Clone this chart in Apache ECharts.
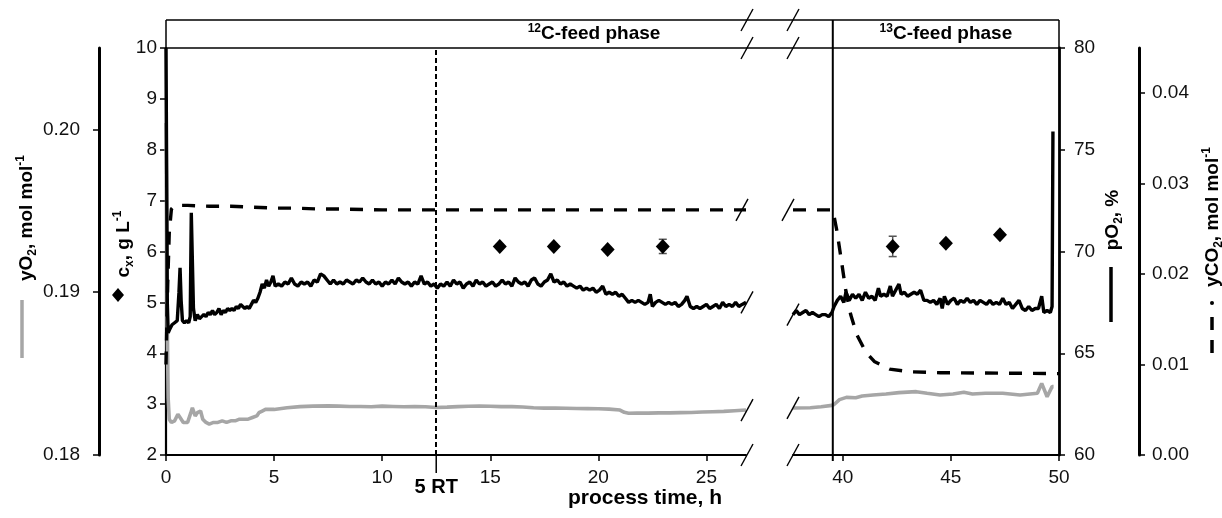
<!DOCTYPE html>
<html><head><meta charset="utf-8">
<script src="https://cdn.jsdelivr.net/npm/echarts@6/dist/echarts.min.js"></script>
<style>html,body{margin:0;padding:0;background:#fff}#c{width:1222px;height:518px}</style>
</head><body><div id="c"></div>
<script>
const FONT = '"Liberation Sans", Arial, Helvetica, sans-serif';

// ---------- data ----------
const pO2Time = [0,0.03,0.06,0.10,0.18,0.28,0.40,0.52,0.60,0.65,0.70,0.76,0.85,0.95,1.05,1.12,1.17,1.22,1.27,1.35,1.45,1.55,1.65,1.75,1.85,1.95,2.05,2.15,2.25,2.35,2.45,2.55,2.65,2.75,2.85,2.95,3.05,3.15,3.25,3.35,3.45,3.55,3.65,3.75,3.85,3.95,4.05,4.15,4.25,4.35,4.45,4.55,4.65,4.75,4.85,4.95,5.05,5.2,5.35,5.5,5.65,5.8,5.95,6.1,6.25,6.4,6.55,6.7,6.85,7.0,7.15,7.3,7.45,7.6,7.75,7.9,8.05,8.2,8.35,8.5,8.65,8.8,8.95,9.1,9.25,9.4,9.55,9.7,9.85,10.0,10.15,10.3,10.45,10.6,10.75,10.9,11.05,11.2,11.35,11.5,11.65,11.8,11.95,12.1,12.25,12.4,12.55,12.7,12.85,13.0,13.15,13.3,13.45,13.6,13.75,13.9,14.05,14.2,14.35,14.5,14.65,14.8,14.95,15.1,15.25,15.4,15.55,15.7,15.85,16.0,16.15,16.3,16.45,16.6,16.75,16.9,17.05,17.2,17.35,17.5,17.65,17.8,17.95,18.1,18.25,18.4,18.55,18.7,18.85,19.0,19.15,19.3,19.45,19.6,19.75,19.9,20.05,20.2,20.35,20.5,20.65,20.8,20.95,21.1,21.25,21.4,21.55,21.7,21.85,22.0,22.15,22.3,22.4,22.5,22.65,22.8,22.95,23.1,23.25,23.4,23.55,23.7,23.85,24.0,24.1,24.25,24.4,24.55,24.7,24.85,25.0,25.15,25.3,25.45,25.6,25.75,25.9,26.05,26.2,26.35,26.5,26.65,26.83,
  37.70,37.85,38.0,38.15,38.3,38.45,38.6,38.75,38.9,39.05,39.2,39.35,39.5,39.6,39.75,39.9,40.05,40.15,40.3,40.45,40.6,40.75,40.9,41.05,41.2,41.35,41.5,41.65,41.75,41.9,42.05,42.2,42.3,42.45,42.6,42.7,42.85,43.0,43.15,43.3,43.45,43.6,43.75,43.9,44.05,44.2,44.35,44.5,44.6,44.7,44.85,45.0,45.15,45.3,45.45,45.6,45.75,45.9,46.05,46.2,46.35,46.5,46.65,46.8,46.95,47.1,47.25,47.4,47.55,47.7,47.85,48.0,48.15,48.3,48.45,48.6,48.75,48.9,49.05,49.2,49.3,49.45,49.6,49.68,49.72];
const pO2Value = [80.0,74.0,67.5,66.0,66.2,66.4,66.5,66.6,68.0,69.2,67.6,66.6,66.5,66.6,66.5,66.8,71.9,71.9,67.2,66.6,66.9,66.7,66.8,66.9,66.8,67.0,66.9,67.1,66.9,67.0,67.2,66.9,67.1,67.0,67.2,67.1,67.2,67.1,67.3,67.2,67.4,67.3,67.2,67.3,67.2,67.4,67.6,67.5,67.7,68.0,68.4,68.2,68.6,68.3,68.5,68.8,68.3,68.4,68.3,68.5,68.4,68.7,68.4,68.3,68.5,68.4,68.5,68.3,68.6,68.5,68.9,68.8,68.6,68.4,68.6,68.4,68.5,68.4,68.6,68.5,68.4,68.6,68.5,68.7,68.5,68.4,68.6,68.4,68.5,68.3,68.5,68.4,68.6,68.4,68.7,68.5,68.4,68.5,68.3,68.5,68.4,68.8,68.4,68.5,68.3,68.4,68.2,68.4,68.3,68.5,68.3,68.6,68.4,68.5,68.2,68.4,68.5,68.3,68.6,68.4,68.5,68.3,68.4,68.5,68.3,68.4,68.6,68.4,68.5,68.3,68.7,68.5,68.4,68.5,68.3,68.6,68.7,68.4,68.3,68.5,68.6,68.9,68.5,68.6,68.4,68.5,68.3,68.4,68.3,68.2,68.3,68.1,68.2,68.1,68.2,68.0,68.1,68.3,67.9,68.0,67.9,68.0,67.8,67.9,67.7,67.5,67.6,67.5,67.6,67.5,67.4,67.5,67.9,67.3,67.5,67.6,67.5,67.4,67.5,67.4,67.5,67.3,67.4,67.6,67.8,67.3,67.2,67.3,67.2,67.3,67.4,67.2,67.3,67.4,67.2,67.5,67.3,67.4,67.3,67.5,67.3,67.4,67.5,
  66.9,67.1,66.9,67.0,67.1,66.9,67.0,66.9,66.8,66.9,66.9,66.8,67.0,67.3,67.6,67.8,67.5,68.0,67.6,67.9,67.7,67.9,67.6,68.0,67.7,67.8,67.6,68.2,67.8,67.9,67.8,68.3,67.8,68.1,68.4,67.9,68.0,67.8,67.9,68.0,67.9,68.1,67.6,67.6,67.5,67.6,67.4,67.7,67.2,67.8,67.4,67.6,67.7,67.4,67.6,67.5,67.7,67.5,67.6,67.4,67.6,67.5,67.4,67.6,67.4,67.5,67.4,67.7,67.4,67.5,67.2,67.4,67.6,67.2,67.1,67.3,67.1,67.2,67.2,67.8,67.0,67.1,67.0,67.3,75.9];

const yO2Time = [0,0.03,0.06,0.10,0.15,0.25,0.40,0.55,0.65,0.80,1.00,1.15,1.22,1.35,1.45,1.6,1.7,1.85,2.0,2.2,2.4,2.6,2.8,3.0,3.2,3.4,3.6,3.8,4.0,4.2,4.3,4.45,4.6,5.0,5.6,6.2,6.8,7.5,8.0,8.5,9.0,9.5,10.0,10.5,11.0,11.5,12.0,12.5,13.0,13.5,14.0,14.5,15.0,15.5,16.0,16.5,17.0,17.5,18.0,18.5,19.0,19.5,20.0,20.5,21.0,21.2,21.4,21.8,22.3,22.8,23.3,23.8,24.3,24.8,25.3,25.8,26.3,26.83,
  37.70,38.5,39.0,39.5,39.6,39.85,40.17,40.6,40.9,41.4,42.0,42.6,43.4,43.9,44.5,45.1,45.6,46.0,46.6,47.4,48.2,49.0,49.2,49.45,49.68,49.75];
const yO2Value = [0.2004,0.1950,0.1880,0.1835,0.1822,0.1820,0.1821,0.1825,0.1823,0.1820,0.1820,0.1826,0.1829,0.1824,0.1826,0.1827,0.1822,0.1820,0.1819,0.1820,0.1820,0.1821,0.1820,0.1821,0.1821,0.1822,0.1822,0.1822,0.1823,0.1824,0.1826,0.1827,0.1828,0.1828,0.1829,0.18297,0.18300,0.18302,0.18300,0.18298,0.18298,0.18296,0.18300,0.18298,0.18296,0.18298,0.18296,0.18292,0.18294,0.18297,0.18299,0.18300,0.18299,0.18297,0.18297,0.18295,0.18290,0.18288,0.18288,0.18287,0.18286,0.18285,0.18284,0.18282,0.18276,0.18262,0.18256,0.18258,0.18257,0.18259,0.18259,0.18260,0.18261,0.18264,0.18266,0.18268,0.18272,0.18276,
  0.18289,0.18290,0.18296,0.18305,0.18310,0.18340,0.18354,0.18352,0.18362,0.18369,0.18375,0.18383,0.18389,0.18379,0.18369,0.18375,0.18385,0.18375,0.18379,0.18379,0.18369,0.18379,0.18440,0.18358,0.18420,0.18420];

const yCO2Time = [0,0.03,0.08,0.15,0.25,0.40,1.0,2.0,3.0,4.0,5.0,6.0,7.0,8.0,10.0,12.0,14.0,16.0,18.0,20.0,22.0,24.0,26.83,
  37.70,39.54,39.72,39.9,40.14,40.37,40.65,41.06,41.48,42.17,43.1,44.5,50.0];
const yCO2Value = [0.0100,0.0135,0.0190,0.0245,0.0272,0.0276,0.0276,0.0275,0.0275,0.0274,0.0273,0.0273,0.0272,0.0272,0.0271,0.0271,0.0271,0.0271,0.0271,0.0271,0.0271,0.0271,0.0271,
  0.0271,0.0271,0.0249,0.0221,0.0182,0.0155,0.0133,0.0114,0.0103,0.0095,0.0092,0.0091,0.0090];

const cxTime = [15.44,17.94,20.43,22.98,42.31,44.77,47.27];
const cxValue = [6.10,6.10,6.04,6.10,6.10,6.16,6.33];
const cxError = [0.04,0.04,0.04,0.14,0.20,0.04,0.04];

const xTicksLeft = [0,5,10,15,20,25];
const xTicksRight = [40,45,50];
const yO2Ticks = [0.18,0.19,0.20];
const yCO2Ticks = [0,0.01,0.02,0.03,0.04];

const rtTime = 12.5;        // 5 residence times
const switchTime = 39.54;   // 12C -> 13C feed switch
const leftRange = [0, 26.83];
const rightRange = [37.70, 50];

// ---------- helpers ----------
function pairs(ts, vs, lo, hi) {
  const out = [];
  for (let i = 0; i < ts.length; i++) if (ts[i] >= lo && ts[i] <= hi) out.push([ts[i], vs[i]]);
  return out;
}
function triples(lo, hi) {
  const out = [];
  for (let i = 0; i < cxTime.length; i++) if (cxTime[i] >= lo && cxTime[i] <= hi) out.push([cxTime[i], cxValue[i], cxError[i]]);
  return out;
}
const labelStyle = { color: '#111', fontSize: 19, fontFamily: FONT };

function xAxisDef(gi, range, ticks) {
  return {
    type: 'value', gridIndex: gi, min: range[0], max: range[1],
    axisLine: { show: true, lineStyle: { color: '#000', width: 2 } },
    axisTick: { show: true, customValues: ticks, length: 6, lineStyle: { color: '#000', width: 1.5 } },
    axisLabel: Object.assign({ customValues: ticks, margin: 13 }, labelStyle),
    splitLine: { show: false }
  };
}
function yAxisDef(gi, min, max, opts) {
  const base = {
    type: 'value', gridIndex: gi, min: min, max: max, show: !!opts.show,
    position: opts.position || 'left', offset: opts.offset || 0,
    axisLine: { show: true, lineStyle: { color: '#000', width: opts.lw || 2 } },
    axisTick: { show: true, length: 6, lineStyle: { color: '#000', width: 1.5 } },
    axisLabel: Object.assign({ margin: opts.margin || 10 }, labelStyle),
    splitLine: { show: false }
  };
  if (opts.interval) base.interval = opts.interval;
  if (opts.ticks) {
    base.axisTick.customValues = opts.ticks;
    base.axisLabel.customValues = opts.ticks;
    base.axisLabel.formatter = v => v.toFixed(2);
  }
  return base;
}

const chart = echarts.init(document.getElementById('c'), null, { renderer: 'canvas' });

const lineSeries = (name, xi, yi, data, style, z) => ({
  name, type: 'line', xAxisIndex: xi, yAxisIndex: yi, data, showSymbol: false, symbol: 'none',
  lineStyle: style, z: z, silent: true, clip: true, animation: false
});

function errorBars(xi, yi, data) {
  return {
    type: 'custom', xAxisIndex: xi, yAxisIndex: yi, data, z: 4, silent: true,
    renderItem: (params, api) => {
      const x = api.value(0), y = api.value(1), e = api.value(2);
      const t = api.coord([x, y + e]), b = api.coord([x, y - e]);
      const w = 4, st = { stroke: '#555', lineWidth: 1.5 };
      return { type: 'group', children: [
        { type: 'line', shape: { x1: t[0], y1: t[1], x2: b[0], y2: b[1] }, style: st },
        { type: 'line', shape: { x1: t[0] - w, y1: t[1], x2: t[0] + w, y2: t[1] }, style: st },
        { type: 'line', shape: { x1: b[0] - w, y1: b[1], x2: b[0] + w, y2: b[1] }, style: st }
      ]};
    }
  };
}
function diamonds(xi, yi, data) {
  return { type: 'scatter', xAxisIndex: xi, yAxisIndex: yi, data: data.map(d => [d[0], d[1]]),
    symbol: 'diamond', symbolSize: [14, 15], itemStyle: { color: '#000', opacity: 1 }, z: 5, silent: true };
}

const greyStyle = { color: '#a6a6a6', width: 3.6 };
const pO2Style = { color: '#000', width: 3.4 };
const co2Style = { color: '#000', width: 3.4, type: [13, 11] };

const option = {
  animation: false,
  backgroundColor: '#fff',
  textStyle: { fontFamily: FONT },
  grid: [
    { left: 166, top: 48, width: 580, height: 407, outerBoundsMode: 'none', containLabel: false },
    { left: 793, top: 48, width: 266, height: 407, outerBoundsMode: 'none', containLabel: false }
  ],
  xAxis: [ xAxisDef(0, leftRange, xTicksLeft), xAxisDef(1, rightRange, xTicksRight) ],
  yAxis: [
    yAxisDef(0, 2, 10, { show: true, interval: 1, margin: 9, lw: 2.2 }),                 // 0 c_x
    yAxisDef(0, 0.18, 0.205, { show: true, offset: 67, ticks: yO2Ticks, margin: 19, lw: 3 }), // 1 yO2
    yAxisDef(0, 60, 80, { show: false }),                                              // 2 pO2 (hidden)
    yAxisDef(0, 0, 0.045, { show: false }),                                            // 3 yCO2 (hidden)
    yAxisDef(1, 2, 10, { show: false }),                                               // 4 c_x (hidden)
    yAxisDef(1, 0.18, 0.205, { show: false }),                                         // 5 yO2 (hidden)
    yAxisDef(1, 60, 80, { show: true, position: 'right', interval: 5, margin: 15, lw: 2.8 }), // 6 pO2
    yAxisDef(1, 0, 0.045, { show: true, position: 'right', offset: 80, ticks: yCO2Ticks, margin: 13, lw: 3 }) // 7 yCO2
  ],
  series: [
    lineSeries('yO2', 0, 1, pairs(yO2Time, yO2Value, leftRange[0], leftRange[1]), greyStyle, 1),
    lineSeries('yO2', 1, 5, pairs(yO2Time, yO2Value, rightRange[0], rightRange[1]), greyStyle, 1),
    Object.assign(lineSeries('pO2', 0, 2, pairs(pO2Time, pO2Value, leftRange[0], leftRange[1]), pO2Style, 2), {
      markLine: { silent: true, symbol: 'none', label: { show: false },
        lineStyle: { color: '#000', width: 2, type: [5, 3] }, data: [{ xAxis: rtTime }] }
    }),
    lineSeries('pO2', 1, 6, pairs(pO2Time, pO2Value, rightRange[0], rightRange[1]), pO2Style, 2),
    lineSeries('yCO2', 0, 3, pairs(yCO2Time, yCO2Value, leftRange[0], leftRange[1]), co2Style, 3),
    lineSeries('yCO2', 1, 7, pairs(yCO2Time, yCO2Value, rightRange[0], rightRange[1]), co2Style, 3),
    errorBars(0, 0, triples(leftRange[0], leftRange[1])),
    errorBars(1, 4, triples(rightRange[0], rightRange[1])),
    diamonds(0, 0, triples(leftRange[0], leftRange[1])),
    diamonds(1, 4, triples(rightRange[0], rightRange[1]))
  ]
};
chart.setOption(option);

// ---------- decorations computed from the axes ----------
const px = (xi, yi, t, v) => chart.convertToPixel({ xAxisIndex: xi, yAxisIndex: yi }, [t, v]);
const plotLeft = px(0, 0, leftRange[0], 10)[0];
const plotTop = px(0, 0, 0, 10)[1];
const plotBottom = px(0, 0, 0, 2)[1];
const leftEnd = px(0, 0, leftRange[1], 2)[0];
const rightStart = px(1, 4, rightRange[0], 2)[0];
const plotRight = px(1, 4, rightRange[1], 2)[0];
const headerTop = plotTop - 28;
const rtX = px(0, 0, rtTime, 2)[0];
const swX = px(1, 4, switchTime, 2)[0];

const S = { stroke: '#000', lineWidth: 1.5 };
const line = (x1, y1, x2, y2, st, z) => ({ type: 'line', shape: { x1, y1, x2, y2 }, style: Object.assign({}, S, st || {}), z: z || 50, silent: true });
const slash = (cx, cy) => line(cx - 6, cy + 11, cx + 6, cy - 11, { lineWidth: 1.4 }, 60);

const sL = leftEnd + 1, sR = rightStart;
const lastOf = (arr) => arr[arr.length - 1];
const pL = lastOf(pairs(pO2Time, pO2Value, leftRange[0], leftRange[1]));
const pR = pairs(pO2Time, pO2Value, rightRange[0], rightRange[1])[0];
const gL = lastOf(pairs(yO2Time, yO2Value, leftRange[0], leftRange[1]));
const gR = pairs(yO2Time, yO2Value, rightRange[0], rightRange[1])[0];
const cL = lastOf(pairs(yCO2Time, yCO2Value, leftRange[0], leftRange[1]));
const cR = pairs(yCO2Time, yCO2Value, rightRange[0], rightRange[1])[0];

const bold = (size) => ({ fontFamily: FONT, fontWeight: 'bold', fontSize: size, fill: '#000' });
const richName = {
  b: { fontFamily: FONT, fontWeight: 'bold', fontSize: 19, lineHeight: 24, fill: '#000', verticalAlign: 'middle' },
  sub: { fontFamily: FONT, fontWeight: 'bold', fontSize: 12, lineHeight: 24, fill: '#000', verticalAlign: 'bottom' },
  sup: { fontFamily: FONT, fontWeight: 'bold', fontSize: 12, lineHeight: 24, fill: '#000', verticalAlign: 'top' }
};
const vText = (x, y, text) => ({ type: 'text', x, y, rotation: Math.PI / 2, silent: true, z: 60,
  style: { text, rich: richName, align: 'center', verticalAlign: 'middle', fill: '#000' } });

const graphics = [
  // header box
  line(plotLeft, headerTop, plotRight, headerTop, { lineWidth: 1.5 }),
  line(plotLeft, plotTop, plotRight, plotTop, { lineWidth: 1.5 }),
  line(plotLeft, headerTop, plotLeft, plotTop, { lineWidth: 1.5 }),
  line(plotRight, headerTop, plotRight, plotTop, { lineWidth: 1.5 }),
  // feed switch line
  line(swX, headerTop, swX, plotBottom + 6, { lineWidth: 2 }),
  // 5 RT tick + label
  line(rtX, plotBottom, rtX, plotBottom + 18, { lineWidth: 1.5 }),
  { type: 'text', x: rtX, y: plotBottom + 32, silent: true, style: Object.assign({ text: '5 RT', align: 'center', verticalAlign: 'middle' }, bold(20)) },
  // x axis name
  { type: 'text', x: 645, y: plotBottom + 43, silent: true, style: Object.assign({ text: 'process time, h', align: 'center', verticalAlign: 'middle' }, bold(21)) },
  // phase labels
  { type: 'text', x: 594, y: (headerTop + plotTop) / 2, silent: true,
    style: { text: '{s|12}{b|C-feed phase}', align: 'center', verticalAlign: 'middle', rich: {
      b: { fontFamily: FONT, fontWeight: 'bold', fontSize: 19, lineHeight: 22, fill: '#000', verticalAlign: 'middle' },
      s: { fontFamily: FONT, fontWeight: 'bold', fontSize: 12, lineHeight: 22, fill: '#000', verticalAlign: 'top' } } } },
  { type: 'text', x: (swX + plotRight) / 2, y: (headerTop + plotTop) / 2, silent: true,
    style: { text: '{s|13}{b|C-feed phase}', align: 'center', verticalAlign: 'middle', rich: {
      b: { fontFamily: FONT, fontWeight: 'bold', fontSize: 19, lineHeight: 22, fill: '#000', verticalAlign: 'middle' },
      s: { fontFamily: FONT, fontWeight: 'bold', fontSize: 12, lineHeight: 22, fill: '#000', verticalAlign: 'top' } } } },
  // break slashes: header lines, axis, data lines
  slash(sL, headerTop), slash(sR, headerTop),
  slash(sL, plotTop), slash(sR, plotTop),
  slash(sL, plotBottom), slash(sR, plotBottom),
  slash(sL, px(0, 2, pL[0], pL[1])[1]), slash(sR, px(1, 6, pR[0], pR[1])[1]),
  slash(sL, px(0, 1, gL[0], gL[1])[1]), slash(sR, px(1, 5, gR[0], gR[1])[1]),
  slash(sL - 5, px(0, 3, cL[0], cL[1])[1]), slash(sR - 5, px(1, 7, cR[0], cR[1])[1]),
  // axis names with legend keys
  vText(27, 218, '{b|yO}{sub|2}{b|, mol mol}{sup|-1}'),
  line(22, 300, 22, 358, { stroke: '#a6a6a6', lineWidth: 3.5 }),
  vText(124, 244, '{b|c}{sub|x}{b|, g L}{sup|-1}'),
  { type: 'polygon', shape: { points: [[118, 288], [124, 295], [118, 302], [112, 295]] }, style: { fill: '#000' }, silent: true },
  vText(1113, 220, '{b|pO}{sub|2}{b|, %}'),
  line(1111, 267, 1111, 322, { lineWidth: 3.5 }),
  vText(1213, 217, '{b|yCO}{sub|2}{b|, mol mol}{sup|-1}'),
  { type: 'circle', shape: { cx: 1212, cy: 303, r: 2 }, style: { fill: '#000' }, silent: true },
  line(1212, 317, 1212, 330, { lineWidth: 3.5 }),
  line(1212, 340, 1212, 353, { lineWidth: 3.5 })
];
chart.setOption({ graphic: graphics });
</script>
</body></html>
